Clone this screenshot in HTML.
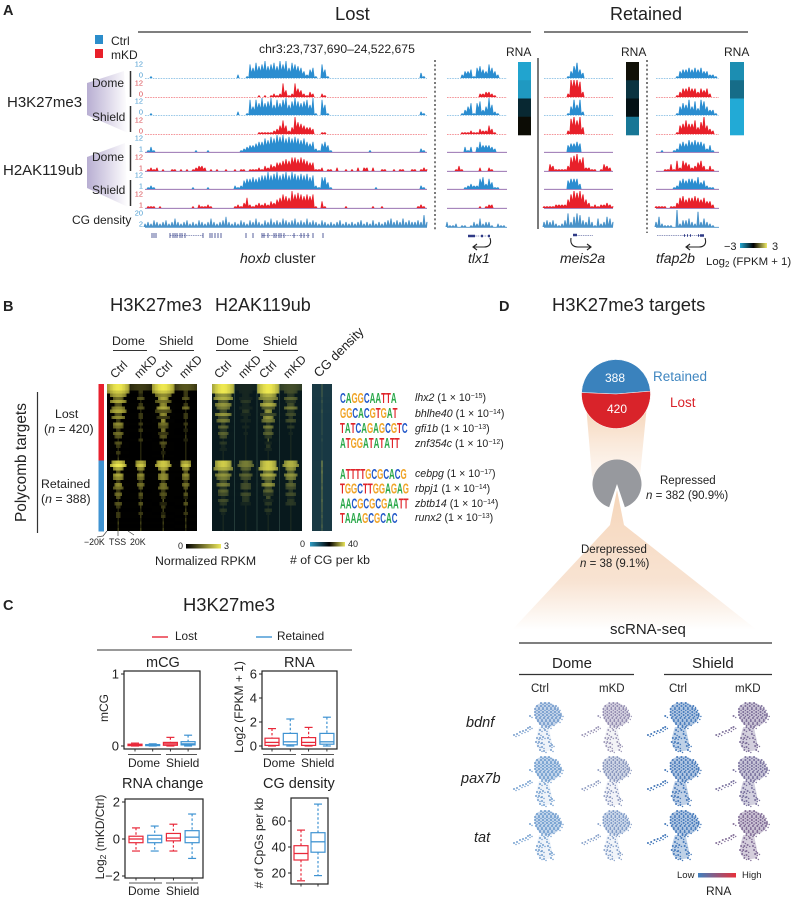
<!DOCTYPE html>
<html lang="en">
<head>
<meta charset="utf-8">
<title>H3K27me3 and H2AK119ub retention figure</title>
<style>
html,body{margin:0;padding:0;background:#fff;}
svg{display:block;}
text{font-family:"Liberation Sans",Arial,sans-serif;fill:#222;}
</style>
</head>
<body>
<svg id="fig" xmlns="http://www.w3.org/2000/svg" width="800" height="899" viewBox="0 0 800 899">
<defs>
<linearGradient id="purpleFade" x1="0" x2="1" y1="0" y2="0"><stop offset="0" stop-color="#b8aed2"/><stop offset="1" stop-color="#b8aed2" stop-opacity="0"/></linearGradient>
<linearGradient id="peachFadeA" x1="0" x2="0" y1="0" y2="1"><stop offset="0" stop-color="#f5d3b5"/><stop offset="1" stop-color="#f9e6d6" stop-opacity="0.35"/></linearGradient>
<linearGradient id="peachFadeB" x1="0" x2="0" y1="0" y2="1"><stop offset="0" stop-color="#f6d6ba"/><stop offset="0.65" stop-color="#f8e3d2"/><stop offset="1" stop-color="#ffffff"/></linearGradient>
<linearGradient id="rnaScale"><stop offset="0" stop-color="#24a9d4"/><stop offset="0.5" stop-color="#000"/><stop offset="1" stop-color="#f0ec6a"/></linearGradient>
<linearGradient id="rpkmScale"><stop offset="0" stop-color="#000"/><stop offset="1" stop-color="#eee95c"/></linearGradient>
<linearGradient id="cgScale"><stop offset="0" stop-color="#2f9cc4"/><stop offset="0.55" stop-color="#000"/><stop offset="1" stop-color="#e8e35a"/></linearGradient>
<linearGradient id="umapScale"><stop offset="0" stop-color="#3f7fbf"/><stop offset="1" stop-color="#e8303a"/></linearGradient>
</defs>

<!-- PANEL A -->
<g>
<text x="3" y="15" font-size="14.5" font-weight="bold">A</text>
<text x="335" y="20" font-size="18.4">Lost</text>
<line x1="138" x2="531" y1="32" y2="32" stroke="#333" stroke-width="1.3"/>
<text x="610" y="20" font-size="18">Retained</text>
<line x1="544" x2="748" y1="32" y2="32" stroke="#333" stroke-width="1.3"/>
<rect x="95" y="35" width="8" height="9" fill="#2b8dcb"/>
<text x="111" y="45" font-size="12">Ctrl</text>
<rect x="95" y="49" width="8" height="9" fill="#e8202a"/>
<text x="111" y="59" font-size="12">mKD</text>
<text x="259" y="53" font-size="12.2">chr3:23,737,690–24,522,675</text>

<polygon points="87,83 124,71 128,133 87,115" fill="url(#purpleFade)"/>
<polygon points="87,157 125,143 128,207 87,188" fill="url(#purpleFade)"/>
<text x="7" y="107" font-size="15">H3K27me3</text>
<text x="3" y="175" font-size="15">H2AK119ub</text>
<text x="92" y="87" font-size="12">Dome</text>
<text x="92" y="121" font-size="12">Shield</text>
<text x="92" y="161" font-size="12">Dome</text>
<text x="92" y="194" font-size="12">Shield</text>
<text x="72" y="224" font-size="12">CG density</text>
<g stroke="#333" stroke-width="1.5">
<line x1="130.5" x2="130.5" y1="71" y2="97"/><line x1="130.5" x2="130.5" y1="106" y2="132"/>
<line x1="130.5" x2="130.5" y1="145" y2="171"/><line x1="130.5" x2="130.5" y1="180" y2="206"/>
</g>
<g id="tracks"></g>
<line x1="435" x2="435" y1="60" y2="231" stroke="#222" stroke-width="1.2" stroke-dasharray="2 2.4"/>
<line x1="538" x2="538" y1="58" y2="229" stroke="#222" stroke-width="1.2"/>
<line x1="647" x2="647" y1="60" y2="233" stroke="#222" stroke-width="1.2" stroke-dasharray="2 2.4"/>

<g id="rnaStrips"></g>
<text x="506" y="56" font-size="12">RNA</text>
<text x="621" y="56" font-size="12">RNA</text>
<text x="724" y="56" font-size="12">RNA</text>

<g fill="none" stroke="#2f3a86">
<path stroke-width="0.6" d="M170 235.5H203M262 235.5H310M473 236H490M576 235.5H593M657 235.5H704" stroke-dasharray="1.5 0.8"/>
<path stroke-width="0.8" d="M152 233v5M154 233v5M156 233v5M170 233v5M173 233v5M175 233v5M177 233v5M180 233v5M182 233v5M185 233v5M203 233v5M210 233v5M212 233v5M215 233v5M218 233v5M221 233v5M246 233v5M253 233v5M262 233v5M264 233v5M268 233v5M274 233v5M276 233v5M279 233v5M281 233v5M284 233v5M294 233v5M301 233v5M304 233v5M308 233v5M313 233v5M323 233v5"/>
<path stroke-width="2.4" d="M468 236H475M481 236H483M488 236H490M573 235H577M684 235.5H685M687 235.5H688M690 235.5H691M698 235.5H699M700 235.5H704"/>
</g>
<g fill="none" stroke="#222" stroke-width="1.1">
<path d="M490 238C492 244 489 247 484 247H474M477 244L473 247L477 250"/>
<path d="M571 238C570 244 573 247 578 247H590M587 244L591 247L587 250"/>
<path d="M705 238C707 244 704 247 699 247H687M690 244L686 247L690 250"/>
</g>
<text x="240" y="263" font-size="14"><tspan font-style="italic">hoxb</tspan> cluster</text>
<text x="468" y="263" font-size="14" font-style="italic">tlx1</text>
<text x="560" y="263" font-size="14" font-style="italic">meis2a</text>
<text x="656" y="263" font-size="14" font-style="italic">tfap2b</text>
<text x="724" y="250" font-size="11">−3</text>
<rect x="740" y="243" width="27" height="5" fill="url(#rnaScale)"/>
<text x="772" y="250" font-size="11">3</text>
<text x="706" y="265" font-size="11.4">Log<tspan font-size="8" dy="2">2</tspan><tspan dy="-2"> (FPKM + 1)</tspan></text>
</g>

<!-- PANEL B -->
<g>
<text x="3" y="311" font-size="14.5" font-weight="bold">B</text>
<text x="110" y="311" font-size="18.4">H3K27me3</text>
<text x="215" y="311" font-size="18">H2AK119ub</text>
<text x="112" y="345" font-size="12.3">Dome</text>
<text x="159" y="345" font-size="12.3">Shield</text>
<text x="216" y="345" font-size="12.3">Dome</text>
<text x="263" y="345" font-size="12.3">Shield</text>
<g stroke="#333" stroke-width="1">
<line x1="113" x2="147" y1="350.5" y2="350.5"/><line x1="159" x2="194" y1="350.5" y2="350.5"/>
<line x1="216" x2="251" y1="350.5" y2="350.5"/><line x1="263" x2="298" y1="350.5" y2="350.5"/>
</g>
<g font-size="12">
<text transform="translate(115,379) rotate(-45)">Ctrl</text>
<text transform="translate(139,379) rotate(-45)">mKD</text>
<text transform="translate(160,379) rotate(-45)">Ctrl</text>
<text transform="translate(184,379) rotate(-45)">mKD</text>
<text transform="translate(219,379) rotate(-45)">Ctrl</text>
<text transform="translate(243,379) rotate(-45)">mKD</text>
<text transform="translate(264,379) rotate(-45)">Ctrl</text>
<text transform="translate(288,379) rotate(-45)">mKD</text>
</g>
<text transform="translate(319,378) rotate(-45)" font-size="13">CG density</text>
<line x1="37.5" x2="37.5" y1="392" y2="533" stroke="#333" stroke-width="1.2"/>
<text transform="translate(26,522) rotate(-90)" font-size="15.4">Polycomb targets</text>
<text x="55" y="418" font-size="12.3">Lost</text>
<text x="44" y="433" font-size="12.3">(<tspan font-style="italic">n</tspan> = 420)</text>
<text x="41" y="488" font-size="12.3">Retained</text>
<text x="41" y="503" font-size="12.3">(<tspan font-style="italic">n</tspan> = 388)</text>
<rect x="98.5" y="384" width="5.5" height="76.5" fill="#e8202e"/>
<rect x="98.5" y="460.5" width="5.5" height="71" fill="#3f93d2"/>
<g id="heatmaps" shape-rendering="crispEdges"></g>
<g stroke="#4a6a60" stroke-width="0.6" opacity="0.7">
<line x1="234.5" x2="234.5" y1="384" y2="531"/><line x1="257" x2="257" y1="384" y2="531"/><line x1="279.5" x2="279.5" y1="384" y2="531"/>
</g>
<g stroke="#444" stroke-width="0.7" fill="none">
<path d="M107 531L103 536L97 537M118 531V536M128 531L134 535"/>
</g>
<g font-size="8.8" fill="#333">
<text x="84" y="545">−20K</text>
<text x="109" y="545">TSS</text>
<text x="130" y="545">20K</text>
</g>
<text x="178" y="549" font-size="9">0</text>
<rect x="186" y="544" width="35" height="4.5" fill="url(#rpkmScale)"/>
<text x="224" y="549" font-size="9">3</text>
<text x="155" y="565" font-size="12.3">Normalized RPKM</text>
<text x="300" y="547" font-size="9">0</text>
<rect x="310" y="542" width="35" height="4.5" fill="url(#cgScale)"/>
<text x="348" y="547" font-size="9">40</text>
<text x="290" y="564" font-size="12.3"># of CG per kb</text>
<g id="motifs"></g>
<g font-size="10.6">
<text x="415" y="401"><tspan font-style="italic">lhx2</tspan> (1 × 10<tspan font-size="7" dy="-3">−15</tspan><tspan dy="3">)</tspan></text>
<text x="415" y="417"><tspan font-style="italic">bhlhe40</tspan> (1 × 10<tspan font-size="7" dy="-3">−14</tspan><tspan dy="3">)</tspan></text>
<text x="415" y="432"><tspan font-style="italic">gfi1b</tspan> (1 × 10<tspan font-size="7" dy="-3">−13</tspan><tspan dy="3">)</tspan></text>
<text x="415" y="447"><tspan font-style="italic">znf354c</tspan> (1 × 10<tspan font-size="7" dy="-3">−12</tspan><tspan dy="3">)</tspan></text>
<text x="415" y="477"><tspan font-style="italic">cebpg</tspan> (1 × 10<tspan font-size="7" dy="-3">−17</tspan><tspan dy="3">)</tspan></text>
<text x="415" y="492"><tspan font-style="italic">rbpj1</tspan> (1 × 10<tspan font-size="7" dy="-3">−14</tspan><tspan dy="3">)</tspan></text>
<text x="415" y="507"><tspan font-style="italic">zbtb14</tspan> (1 × 10<tspan font-size="7" dy="-3">−14</tspan><tspan dy="3">)</tspan></text>
<text x="415" y="521"><tspan font-style="italic">runx2</tspan> (1 × 10<tspan font-size="7" dy="-3">−13</tspan><tspan dy="3">)</tspan></text>
</g>
</g>

<!-- PANEL C -->
<g>
<text x="3" y="610" font-size="14.5" font-weight="bold">C</text>
<text x="183" y="611" font-size="18.4">H3K27me3</text>
<line x1="152" x2="168" y1="637" y2="637" stroke="#e8293a" stroke-width="1.4"/>
<text x="175" y="640" font-size="11.8">Lost</text>
<line x1="256" x2="272" y1="637" y2="637" stroke="#3f93d2" stroke-width="1.4"/>
<text x="277" y="640" font-size="11.8">Retained</text>
<line x1="97" x2="352" y1="650" y2="650" stroke="#333" stroke-width="1.1"/>

<text x="146" y="667" font-size="14.5">mCG</text>
<text x="284" y="667" font-size="14.5">RNA</text>
<text x="122" y="788" font-size="14.5">RNA change</text>
<text x="263" y="788" font-size="14.5">CG density</text>
<text transform="translate(108,708) rotate(-90)" text-anchor="middle" font-size="12">mCG</text>
<text transform="translate(243,707) rotate(-90)" text-anchor="middle" font-size="12">Log2 (FPKM + 1)</text>
<text transform="translate(104,837) rotate(-90)" text-anchor="middle" font-size="12">Log<tspan font-size="8.5" dy="2">2</tspan><tspan dy="-2"> (mKD/Ctrl)</tspan></text>
<text transform="translate(263,843) rotate(-90)" text-anchor="middle" font-size="12"># of CpGs per kb</text>
<g id="boxcharts"></g>
<g stroke="#555" stroke-width="0.9">
<line x1="128" x2="161" y1="754.5" y2="754.5"/><line x1="166" x2="197" y1="754.5" y2="754.5"/>
<line x1="263" x2="296" y1="754.5" y2="754.5"/><line x1="301" x2="334" y1="754.5" y2="754.5"/>
<line x1="129" x2="162" y1="883" y2="883"/><line x1="166" x2="198" y1="883" y2="883"/>
</g>
<g font-size="12">
<text x="128" y="767">Dome</text>
<text x="166" y="767">Shield</text>
<text x="263" y="767">Dome</text>
<text x="301" y="767">Shield</text>
<text x="128" y="895">Dome</text>
<text x="166" y="895">Shield</text>
</g>
</g>

<!-- PANEL D -->
<g>
<text x="499" y="311" font-size="14.5" font-weight="bold">D</text>
<text x="552" y="311" font-size="18.4">H3K27me3 targets</text>
<polygon points="586,405 647,405 640,476 592,476" fill="url(#peachFadeA)"/>
<polygon points="617,490 624,525 757,630 512,630 610,525" fill="url(#peachFadeB)"/>
<g id="pies"></g>
<text x="605" y="382" font-size="12" style="fill:#fff">388</text>
<text x="607" y="413" font-size="12" style="fill:#fff">420</text>
<text x="653" y="381" font-size="13.5" style="fill:#3f86c0">Retained</text>
<text x="670" y="407" font-size="13.5" style="fill:#d9232a">Lost</text>
<text x="660" y="484" font-size="11.5">Repressed</text>
<text x="646" y="499" font-size="11.5"><tspan font-style="italic">n</tspan> = 382 (90.9%)</text>
<text x="581" y="553" font-size="11.5">Derepressed</text>
<text x="580" y="567" font-size="11.5"><tspan font-style="italic">n</tspan> = 38 (9.1%)</text>
<text x="610" y="634" font-size="15">scRNA-seq</text>
<line x1="519" x2="772" y1="643" y2="643" stroke="#333" stroke-width="1.2"/>
<text x="552" y="668" font-size="15">Dome</text>
<text x="692" y="668" font-size="15">Shield</text>
<line x1="519" x2="634" y1="674.5" y2="674.5" stroke="#333" stroke-width="1.2"/>
<line x1="664" x2="772" y1="674.5" y2="674.5" stroke="#333" stroke-width="1.2"/>
<g font-size="11.5">
<text x="531" y="692">Ctrl</text>
<text x="599" y="692">mKD</text>
<text x="669" y="692">Ctrl</text>
<text x="735" y="692">mKD</text>
</g>
<g font-size="14.5" font-style="italic">
<text x="466" y="727">bdnf</text>
<text x="461" y="783">pax7b</text>
<text x="474" y="842">tat</text>
</g>
<g id="umaps"></g>
<text x="677" y="878" font-size="9.5">Low</text>
<rect x="698" y="873" width="38" height="4.5" fill="url(#umapScale)"/>
<text x="742" y="878" font-size="9.5">High</text>
<text x="706" y="895" font-size="12">RNA</text>
</g>
</svg>

<script>
/* ---------- Browser track values (0–10 signal, read by eye per bin) ---------- */
const hoxbK27DomeCtrl=[0,0,1,0,0,0,0,0,0,0,0,0,0,0,0,0,0,0,0,0,0,0,0,0,0,0,0,0,0,0,0,2,0,0,1,8,6,9,7,8,10,7,8,9,7,10,8,10,6,9,8,7,6,4,2,5,6,1,0,8,5,1,0,0,0,0,0,0,0,0,0,0,0,0,0,0,0,0,0,0,0,0,0,0,0,0,0,0,0,0,0,0,3,1,0];
const hoxbK27DomeKD=[0,0,0,0,0,0,0,0,0,0,0,0,0,0,0,0,0,0,0,0,0,0,0,0,0,0,0,0,0,0,0,0,0,0,0,0,0,0,1,0,1,0,1,2,1,2,8,4,1,2,8,5,4,2,1,3,2,0,0,2,1,0,0,0,0,0,0,0,0,0,0,0,0,0,0,0,0,0,0,0,0,0,0,0,0,0,0,0,0,0,0,0,0,0,0];
const hoxbK27ShieldCtrl=[0,0,1,0,0,0,0,0,0,0,0,0,0,0,0,0,0,0,0,0,0,0,0,0,0,0,0,0,0,0,0,2,0,0,1,9,5,9,7,10,7,8,10,6,9,7,9,10,6,8,10,8,7,8,9,6,10,1,0,9,6,1,0,0,0,0,0,0,0,0,0,0,0,0,0,0,0,0,0,0,0,0,0,0,0,0,0,0,0,0,0,0,2,1,0];
const hoxbK27ShieldKD=[0,0,0,0,0,0,0,0,0,0,0,0,0,0,0,0,0,0,0,0,0,0,0,0,0,0,0,0,0,0,0,0,0,0,0,0,0,0,1,1,1,1,1,2,3,5,8,5,2,4,10,7,6,5,4,4,3,0,0,1,1,0,0,0,0,0,0,0,0,0,0,0,0,0,0,0,0,0,0,0,0,0,0,0,0,0,0,0,0,0,0,0,0,0,0];
const hoxbK119DomeCtrl=[0,1,3,1,0,0,0,0,0,0,0,0,0,0,0,0,0,1,0,0,0,1,0,0,0,0,0,0,0,0,0,0,1,2,3,4,4,5,6,6,8,7,9,8,10,9,10,8,9,8,9,8,7,8,6,5,6,2,1,5,6,4,1,0,0,0,0,0,0,0,0,0,0,0,0,1,0,0,0,0,0,0,0,0,0,0,0,0,0,0,0,0,2,1,0];
const hoxbK119DomeKD=[0,1,2,1,2,0,1,0,0,1,1,0,1,0,1,0,1,2,3,3,2,0,1,0,1,0,0,1,0,0,1,0,1,1,0,1,1,1,2,1,3,2,4,3,5,5,6,7,6,8,8,7,8,7,6,5,5,1,1,2,0,1,1,0,2,0,0,1,0,1,0,2,0,2,2,0,2,0,0,1,1,0,0,1,0,1,1,0,0,1,1,0,1,2,1];
const hoxbK119ShieldCtrl=[0,1,2,1,0,0,0,0,0,0,0,0,0,0,0,0,1,0,0,0,0,1,0,0,0,0,0,0,0,0,2,1,2,5,6,6,7,6,7,8,8,10,8,9,10,8,9,10,8,10,9,8,9,8,9,7,8,2,1,7,7,4,1,0,0,0,0,0,0,0,0,0,0,0,0,0,0,1,0,0,0,0,0,0,0,0,0,0,0,0,0,0,2,1,0];
const hoxbK119ShieldKD=[0,1,1,1,0,1,0,0,0,0,0,0,0,0,0,0,1,0,2,1,1,2,1,0,0,0,0,0,0,0,1,2,1,3,6,2,1,2,3,2,3,2,4,3,5,6,8,7,6,10,8,9,8,7,8,7,8,1,0,4,1,0,0,0,0,0,0,1,0,0,0,0,0,0,0,0,1,0,0,1,0,0,0,0,0,0,0,0,0,0,0,1,2,1,0];
const hoxbCG=[2,3,2,4,3,2,3,4,2,3,5,3,2,3,4,2,3,2,4,3,2,3,5,3,2,3,4,6,3,2,3,2,4,3,2,4,3,5,3,2,4,3,5,3,4,3,5,4,3,4,5,3,4,3,5,3,4,3,2,4,3,2,3,2,3,4,2,3,2,3,2,3,4,2,3,2,4,2,3,2,3,4,5,3,4,3,5,3,4,3,3,4,3,7,3];
const hoxbTracks=[hoxbK27DomeCtrl,hoxbK27DomeKD,hoxbK27ShieldCtrl,hoxbK27ShieldKD,hoxbK119DomeCtrl,hoxbK119DomeKD,hoxbK119ShieldCtrl,hoxbK119ShieldKD,hoxbCG];

const tlx1Tracks=[
[0,0,0,0,0,2,4,4,5,1,6,7,5,4,8,6,4,2,0,0,0],
[0,0,0,0,0,0,0,0,0,0,0,2,2,3,3,2,1,0,0,0,0],
[0,0,0,0,0,1,3,5,7,1,7,8,3,5,10,6,2,1,0,0,0],
[0,0,0,0,0,1,1,1,2,1,1,3,2,2,5,3,1,0,0,0,0],
[0,0,0,0,0,0,3,1,3,0,3,6,4,4,4,3,2,0,0,0,0],
[0,0,0,1,3,1,0,0,0,0,0,2,0,0,2,1,0,0,0,0,0],
[0,0,0,0,0,0,1,2,3,2,2,6,7,3,6,4,1,1,0,0,0],
[0,0,0,0,0,0,0,0,0,0,0,1,0,1,2,2,0,0,0,0,0],
[3,1,1,2,0,1,1,0,1,3,2,5,2,3,3,1,0,2,1,1,0]];
const meis2aTracks=[
[0,0,0,0,0,0,0,0,1,4,7,9,5,3,0,0,0,0,0,0,0,0,0,0],
[0,0,0,0,0,0,0,0,2,10,10,10,9,3,0,0,0,0,0,0,0,0,0,0],
[0,0,0,0,0,0,0,0,1,5,9,6,9,2,0,0,0,0,0,0,0,0,0,0],
[0,0,0,0,0,0,0,0,2,9,10,8,10,4,0,0,0,0,0,0,0,0,0,0],
[0,0,0,0,0,0,0,0,4,5,5,6,5,0,0,0,0,0,0,0,0,0,0,0],
[0,0,4,3,1,1,1,1,3,8,9,10,7,8,2,2,1,1,0,1,4,3,2,0],
[0,0,0,0,0,0,0,0,5,6,6,6,3,0,0,0,0,0,0,0,0,0,0,0],
[1,1,1,1,2,2,2,2,5,8,10,9,10,8,5,3,1,2,1,2,2,3,2,1],
[3,4,3,4,2,1,2,4,8,3,6,8,7,4,3,6,3,1,5,2,3,6,5,3]];
const tfap2bTracks=[
[0,0,0,0,0,0,0,1,4,5,5,6,5,6,5,6,4,4,2,2,1,0],
[0,0,0,0,0,0,0,1,3,5,5,6,5,5,3,5,4,5,2,0,0,0],
[0,0,0,0,0,0,0,1,5,7,6,9,5,8,4,9,8,5,3,3,1,0],
[0,0,0,0,0,0,0,1,5,6,8,6,6,8,4,7,10,5,3,2,0,0],
[0,0,1,0,0,0,1,2,5,6,5,7,6,7,6,6,5,2,4,1,0,0],
[0,0,0,1,1,4,1,6,2,6,5,4,2,3,5,6,3,1,3,1,0,0],
[0,0,0,0,0,0,1,2,5,6,5,6,6,5,7,4,5,2,1,1,0,0],
[1,1,1,1,0,1,1,3,6,7,5,6,6,7,6,5,6,4,4,2,0,0],
[3,6,2,1,1,1,0,10,2,4,4,5,3,2,9,3,5,3,2,1,0,0]];
const trackTopLabels=[12,12,12,12,12,12,12,12,20];
const trackBottomLabels=[0,0,0,0,1,1,1,1,2];

/* RNA heat strip values (log2 FPKM, -3..3) */
const rnaTlx1=[-2.9,-2.7,-0.7,0.15];
const rnaMeis2a=[0.2,-0.9,-0.3,-2.1];
const rnaTfap2b=[-2.5,-1.9,-3,-3];

/* ---------- Heatmap row values (signal 0–9, half-width in bins) ---------- */
const k27DomeCtrlSig=[9,9,8,7,5,7,4,6,7,4,6,3,6,5,3,5,4,2,4,3,2,3,2,3,8,9,7,4,7,6,3,6,5,3,5,4,2,4,3,2,3,3,2,3,2,3];
const k27DomeKdSig=[3,3,3,2,4,2,3,4,2,3,3,2,3,2,3,2,2,3,2,2,2,2,2,2,7,8,6,3,6,5,3,5,4,2,4,3,2,4,3,2,3,3,2,3,2,3];
const k27ShieldCtrlSig=[9,9,8,6,7,5,6,7,4,6,3,6,5,4,5,3,4,2,4,3,3,2,3,2,8,8,7,5,6,6,3,5,5,3,4,3,4,2,3,3,2,3,2,3,2,3];
const k27ShieldKdSig=[4,4,3,3,4,2,3,5,2,3,3,2,3,3,2,2,3,2,2,2,2,2,2,2,7,8,6,4,6,5,3,5,4,3,4,2,3,4,2,3,3,2,3,2,3,2];
const k27CtrlWid=[7,7,7,5,3,5,2,4,5,2,4,1,3,3,1,3,2,0,2,1,0,1,0,0,4,5,3,1,3,3,1,2,3,1,2,1,0,2,1,0,1,1,0,0,0,0];
const k27KdWid=[7,7,1,1,2,0,1,2,0,1,1,0,1,0,1,0,0,1,0,0,0,0,0,0,3,3,2,1,2,2,1,2,1,0,1,1,0,1,0,0,1,0,0,0,0,0];
const k119DomeCtrlSig=[9,9,9,6,7,4,6,5,3,6,3,5,2,4,2,4,3,1,2,1,1,1,1,1,8,8,7,4,6,5,3,5,2,4,3,1,3,2,1,2,1,1,1,1,1,1];
const k119DomeKdSig=[1,1,1,1,1,2,1,1,2,1,1,1,1,1,1,1,1,1,1,1,1,1,1,1,5,5,4,2,4,3,2,3,3,1,3,2,2,1,1,1,1,1,1,1,1,1];
const k119ShieldCtrlSig=[9,9,9,7,6,5,7,4,6,3,6,5,2,5,3,4,2,4,1,2,1,1,1,1,8,8,8,5,7,5,4,6,3,4,2,3,1,2,1,2,1,1,1,1,1,1];
const k119ShieldKdSig=[3,3,3,2,4,2,3,5,2,3,2,3,1,2,1,1,1,1,1,1,1,1,1,1,7,7,6,4,6,5,3,4,3,2,3,1,2,2,1,1,1,1,1,1,1,1];
const k119CtrlWid=[7,7,7,5,6,3,5,4,2,5,3,4,1,3,2,3,2,0,2,1,2,0,0,0,5,5,6,3,5,4,2,4,2,3,3,1,3,2,0,2,1,0,0,0,0,0];
const k119KdWid=[7,7,4,2,4,3,2,4,2,3,1,3,0,2,0,1,0,0,0,0,0,0,0,0,4,5,3,2,4,3,1,3,3,1,3,2,2,3,0,0,0,0,0,0,0,0];
const cgSig=[3,3,3,3,2,3,2,2,3,2,2,2,2,2,2,2,1,2,1,1,1,1,1,1,6,6,5,6,5,5,5,4,5,4,4,4,5,4,4,4,3,4,3,3,4,3];
const cgWid=[0,0,0,0,0,0,0,0,0,0,0,0,0,0,0,0,0,0,0,0,0,0,0,0,0,0,0,0,0,0,0,0,0,0,0,0,0,0,0,0,0,0,0,0,0,0];

/* ---------- Motifs ---------- */
const motifSeqs=["CAGGCAATTA","GGCACGTGAT","TATCAGAGCGTC","ATGGATATATT","ATTTTGCGCACG","TGGCTTGGAGAG","AACGCGCGAATT","TAAAGCGCAC"];
const motifRowsUpper=4;

/* ---------- Box plot values: [min, q1, median, q3, max] ---------- */
const boxCategories=["Dome Lost","Dome Retained","Shield Lost","Shield Retained"];
const mcgStats=[[0,0.005,0.015,0.025,0.04],[0,0.005,0.01,0.02,0.03],[0,0.01,0.03,0.05,0.12],[0,0.015,0.03,0.06,0.15]];
const rnaStats=[[0,0.05,0.3,0.65,1.45],[0,0.1,0.35,1.05,2.25],[0,0.05,0.3,0.7,1.55],[0,0.15,0.35,1.05,2.4]];
const changeStats=[[-0.65,-0.2,0,0.15,0.6],[-0.65,-0.2,0,0.2,0.7],[-0.65,-0.1,0.05,0.3,0.8],[-1.05,-0.2,0.1,0.45,1.35]];
const cgCategories=["Lost","Retained"];
const cgStats=[[14,30,35,41,53],[18,36,44,51,73]];
const mcgTicks=[0,1];
const rnaTicks=[0,2,4,6];
const changeTicks=[-2,0,2];
const cgTicks=[20,40,60];

/* ---------- Pie values ---------- */
const targetCounts=[388,420];
const repressedCounts=[382,38];

/* ---------- UMAP expression level per gene/column (0 low – 1 high) ---------- */
const umapGenes=["bdnf","pax7b","tat"];
const umapBdnf=[0.1,0.55,0.1,0.6];
const umapPax7b=[0.05,0.35,0.12,0.55];
const umapTat=[0.05,0.2,0.1,0.65];
const umapDensity=[0.75,0.65,1,0.85];
const umapCells=[[-6,-12],[-2,-12],[2,-12],[-10,-9],[-6,-9],[-2,-9],[2,-9],[6,-9],[9,-9],[-12,-6],[-8,-6],[-4,-6],[0,-6],[4,-6],[8,-6],[11,-6],[-12,-3],[-8,-3],[-4,-3],[0,-3],[4,-3],[8,-3],[12,-3],[-12,0],[-8,0],[-4,0],[0,0],[4,0],[8,0],[12,0],[14,0],[-11,3],[-7,3],[-3,3],[1,3],[5,3],[9,3],[13,3],[-9,6],[-5,6],[-1,6],[3,6],[7,6],[11,6],[-7,9],[-3,9],[1,9],[5,9],[-5,12],[-1,12],[2,12],[-7,15],[-2,15],[-8,19],[0,19],[-10,23],[-7,23],[-4,22],[1,23],[-11,27],[-8,27],[-5,28],[2,27],[-9,31],[-5,32],[3,31],[-7,35],[4,35],[-3,36],[5,30],[-33,20],[-30,19],[-27,17],[-24,16],[-21,15],[-19,13],[-17,12],[-17,1]];

/* ---------- Helpers ---------- */
const NS="http://www.w3.org/2000/svg";
function mk(tag,attrs,parent){
  const el=document.createElementNS(NS,tag);
  for(const k in attrs){el.setAttribute(k,attrs[k]);}
  parent.appendChild(el);
  return el;
}
function linear(d0,d1,r0,r1){return v=>r0+(v-d0)/(d1-d0)*(r1-r0);}
function mix(a,b,t){t=Math.max(0,Math.min(1,t));return "rgb("+a.map((c,i)=>Math.round(c+(b[i]-c)*t)).join(",")+")";}

/* ---------- Tracks ---------- */
const trackBase=i=>[78,97,115,134,152,171,189,208,227][i];
const trackColor=i=>i===8?"#4a93c9":(i%2===0?"#2b8dd0":"#e8202a");
const trackHeight=linear(0,10,0,17);
const tracksLayer=document.getElementById("tracks");
function drawLocus(tracks,x0,binW,locus){
  const xs=linear(0,1,x0,x0+binW);
  tracks.forEach((vals,i)=>{
    const base=trackBase(i);
    const line=mk("line",{x1:x0,x2:xs(vals.length-1),y1:base+0.3,y2:base+0.3,stroke:i>=4&&i<8?"#8a5fa5":trackColor(i),"stroke-width":i>=4?0.9:0.7,"stroke-dasharray":i<4?"1.6 1":"none",opacity:i<4?0.75:1},tracksLayer);
    
    
    const valley=i===8?0.3:0.62;
    let d="M"+xs(0)+" "+base;
    vals.forEach((v,j)=>{
      const prev=j>0?vals[j-1]:0;
      d+="L"+xs(j-0.5).toFixed(1)+" "+(base-trackHeight(Math.min(v,prev))*valley).toFixed(1);
      d+="L"+xs(j-0.15).toFixed(1)+" "+(base-trackHeight(v)).toFixed(1);
      d+="L"+xs(j+0.15).toFixed(1)+" "+(base-trackHeight(v)).toFixed(1);
    });
    d+="L"+xs(vals.length-1)+" "+base+"Z";
    const area=mk("path",{d:d,fill:trackColor(i)},tracksLayer);
    
    
  });
}
drawLocus(hoxbTracks,145,3,"hoxb");
drawLocus(tlx1Tracks,447,3,"tlx1");
drawLocus(meis2aTracks,544,3,"meis2a");
drawLocus(tfap2bTracks,656,3,"tfap2b");
trackTopLabels.forEach((t,i)=>{
  const base=trackBase(i);
  const col=i%2===0||i===8?"#4a9bd0":"#d84a50";
  const top=mk("text",{x:143,y:base-11.5,"font-size":7.4,"text-anchor":"end",style:"fill:"+col},tracksLayer);
  top.textContent=t;
  
  
  const bot=mk("text",{x:143,y:base-0.5,"font-size":7.4,"text-anchor":"end",style:"fill:"+col},tracksLayer);
  bot.textContent=trackBottomLabels[i];
  
  
});

/* ---------- RNA strips ---------- */
const stripLayer=document.getElementById("rnaStrips");
function rnaColor(v){
  const t=linear(-3,3,0,1)(v);
  return t<0.5?mix([34,170,214],[0,0,0],t*2):mix([0,0,0],[240,236,106],(t-0.5)*2);
}
function drawStrip(vals,x,w,name){
  const ys=linear(0,4,62,135);
  vals.forEach((v,i)=>{
    const r=mk("rect",{x:x,y:ys(i),width:w,height:ys(1)-ys(0)+0.3,fill:rnaColor(v)},stripLayer);
    
    
  });
}
drawStrip(rnaTlx1,518,13,"tlx1");
drawStrip(rnaMeis2a,626,13,"meis2a");
drawStrip(rnaTfap2b,730,14,"tfap2b");

/* ---------- Heatmaps ---------- */
const heatLayer=document.getElementById("heatmaps");
const heatRowY=linear(0,46,384,531);
const BINS=15;
const YELLOW=[238,232,80];
function drawHeat(x0,w,sig,wid,bg,name){
  const binW=w/BINS;
  const mid=(BINS-1)/2;
  sig.forEach((s,r)=>{
    for(let b=0;b<BINS;b++){
      const d=Math.abs(b-mid);
      const q=d/(wid[r]+1);
      const f=d<=wid[r]?1-0.35*q*q:0.03;
      const cell=mk("rect",{x:(x0+b*binW).toFixed(2),y:heatRowY(r).toFixed(2),width:(binW+0.2).toFixed(2),height:(heatRowY(1)-heatRowY(0)+0.2).toFixed(2),fill:mix(bg,YELLOW,Math.pow(s*f/9,1.25))},heatLayer);
      
      
    }
  });
}
const BLACK=[0,0,0],NAVY=[8,25,29],TEAL=[24,56,68];
drawHeat(107,22.5,k27DomeCtrlSig,k27CtrlWid,BLACK,"k27-dome-ctrl");
drawHeat(129.5,22.5,k27DomeKdSig,k27KdWid,BLACK,"k27-dome-mkd");
drawHeat(152,22.5,k27ShieldCtrlSig,k27CtrlWid,BLACK,"k27-shield-ctrl");
drawHeat(174.5,22.5,k27ShieldKdSig,k27KdWid,BLACK,"k27-shield-mkd");
drawHeat(212,22.5,k119DomeCtrlSig,k119CtrlWid,NAVY,"k119-dome-ctrl");
drawHeat(234.5,22.5,k119DomeKdSig,k119KdWid,NAVY,"k119-dome-mkd");
drawHeat(257,22.5,k119ShieldCtrlSig,k119CtrlWid,NAVY,"k119-shield-ctrl");
drawHeat(279.5,22.5,k119ShieldKdSig,k119KdWid,NAVY,"k119-shield-mkd");
drawHeat(312,20,cgSig,cgWid,TEAL,"cg-density");

/* ---------- Motifs ---------- */
const motifLayer=document.getElementById("motifs");
const motifColors={A:"#2ba84a",C:"#2258c8",G:"#f0a428",T:"#e0242a"};
const motifY=i=>i<motifRowsUpper?403+i*15:479+(i-motifRowsUpper)*14.7;
motifSeqs.forEach((seq,i)=>{
  const t=mk("text",{transform:"translate(340,"+motifY(i)+") scale(0.53,1)","font-size":15,"font-weight":"bold"},motifLayer);
  
  
  seq.split("").forEach(ch=>{
    const s=mk("tspan",{style:"fill:"+motifColors[ch]},t);
    s.textContent=ch;
  });
});

/* ---------- Box plots ---------- */
const boxLayer=document.getElementById("boxcharts");
const RED="#e8293a",BLUE="#3f93d2";
function drawChart(opts){
  const y=opts.scale;
  const frame=mk("rect",{x:opts.left,y:opts.top,width:opts.right-opts.left,height:opts.bottom-opts.top,fill:"none",stroke:"#222","stroke-width":1.2},boxLayer);
  
  
  opts.ticks.forEach(t=>{
    const tk=mk("line",{x1:opts.left-3,x2:opts.left,y1:y(t),y2:y(t),stroke:"#222","stroke-width":1},boxLayer);
    
    
    const lab=mk("text",{x:opts.left-5,y:y(t)+4.5,"text-anchor":"end","font-size":13},boxLayer);
    lab.textContent=String(t).replace("-","−");
    
    
  });
  const xs=linear(0,1,opts.firstX,opts.firstX+opts.stepX);
  opts.stats.forEach((s,i)=>{
    const cx=xs(i),col=i%2===0?RED:BLUE,hw=7,cap=4;
    const g=mk("g",{fill:"none",stroke:col,"stroke-width":1.2},boxLayer);
    
    
    mk("line",{x1:cx,x2:cx,y1:y(s[4]),y2:y(s[3]),"stroke-dasharray":"2.4 2"},g);
    mk("line",{x1:cx,x2:cx,y1:y(s[1]),y2:y(s[0]),"stroke-dasharray":"2.4 2"},g);
    mk("line",{x1:cx-cap,x2:cx+cap,y1:y(s[4]),y2:y(s[4])},g);
    mk("line",{x1:cx-cap,x2:cx+cap,y1:y(s[0]),y2:y(s[0])},g);
    mk("rect",{x:cx-hw,y:y(s[3]),width:hw*2,height:Math.max(0.5,y(s[1])-y(s[3]))},g);
    mk("line",{x1:cx-hw,x2:cx+hw,y1:y(s[2]),y2:y(s[2]),"stroke-width":1.3},g);
    const xt=mk("line",{x1:cx,x2:cx,y1:opts.bottom,y2:opts.bottom+2.5,stroke:"#222","stroke-width":0.9},boxLayer);
    
    
  });
}
drawChart({name:"mcg",stats:mcgStats,categories:boxCategories,ticks:mcgTicks,scale:linear(0,1,746,674),left:124,right:200,top:671,bottom:749,firstX:135,stepX:17.7});
drawChart({name:"rna",stats:rnaStats,categories:boxCategories,ticks:rnaTicks,scale:linear(0,6,746,674),left:262,right:337,top:671,bottom:749,firstX:272,stepX:18.3});
drawChart({name:"rna-change",stats:changeStats,categories:boxCategories,ticks:changeTicks,scale:linear(-2,2,876,802),left:125,right:203,top:799,bottom:878,firstX:136,stepX:18.7});
drawChart({name:"cg-density",stats:cgStats,categories:cgCategories,ticks:cgTicks,scale:linear(20,60,873,821),left:291,right:328,top:798,bottom:884,firstX:301,stepX:17});

/* ---------- Pies ---------- */
const pieLayer=document.getElementById("pies");
function arcPath(cx,cy,rad,a0,a1){
  const p0=[cx+rad*Math.cos(a0),cy+rad*Math.sin(a0)],p1=[cx+rad*Math.cos(a1),cy+rad*Math.sin(a1)];
  const large=Math.abs(a1-a0)>Math.PI?1:0;
  return "M"+cx+" "+cy+"L"+p0[0].toFixed(2)+" "+p0[1].toFixed(2)+"A"+rad+" "+rad+" 0 "+large+" 1 "+p1[0].toFixed(2)+" "+p1[1].toFixed(2)+"Z";
}
const targetTotal=targetCounts[0]+targetCounts[1];
const retainedSweep=targetCounts[0]/targetTotal*2*Math.PI;
const topMid=-Math.PI/2-0.02;
const retainedStart=topMid-retainedSweep/2,retainedEnd=topMid+retainedSweep/2;
const pieRetained=mk("path",{d:arcPath(616,394,34.5,retainedStart,retainedEnd),fill:"#3a82bd",stroke:"#fff","stroke-width":0.5},pieLayer);


const pieLost=mk("path",{d:arcPath(616,394,34.5,retainedEnd,retainedStart+2*Math.PI),fill:"#d9232a",stroke:"#fff","stroke-width":0.5},pieLayer);


const repressedTotal=repressedCounts[0]+repressedCounts[1];
const notchHalf=repressedCounts[1]/repressedTotal*Math.PI*1.15;
const pieRepressed=mk("path",{d:arcPath(617,484,24.5,Math.PI/2+notchHalf,Math.PI/2-notchHalf+2*Math.PI),fill:"#97999e"},pieLayer);



/* ---------- UMAPs ---------- */
const umapLayer=document.getElementById("umaps");
const umapLevels=[umapBdnf,umapPax7b,umapTat];
const umapX=linear(0,1,547,615.3);
const umapY=linear(0,1,715,769);
const headOutline="M-12,-8C-8,-14 4,-14 8,-9C11,-6 15,-2 14,3C12,9 6,12 0,12C-8,12 -14,4 -12,-8Z";
const tailOutline="M-8,12L2,12C3,20 6,28 5,34C2,37 -6,37 -10,32C-12,26 -10,18 -8,12Z";
umapGenes.forEach((gene,r)=>{
  umapLevels[r].forEach((lvl,c)=>{
    const colour=mix([62,128,196],[140,70,105],lvl);
    const scale=c>1?1.08:1;
    const g=mk("g",{fill:colour,transform:"translate("+umapX(c).toFixed(1)+","+umapY(r)+") scale("+scale+",1)"},umapLayer);
    
    
    mk("path",{d:headOutline,opacity:0.42*umapDensity[c]},g);
    mk("path",{d:tailOutline,opacity:(c>1?0.35:0.12)*umapDensity[c]},g);
    const dots=mk("g",{opacity:umapDensity[c]},g);
    umapCells.forEach(p=>{
      mk("circle",{cx:p[0],cy:p[1],r:0.95},dots);
      mk("circle",{cx:p[0]+2,cy:p[1]+1.5,r:0.7},dots);
    });
  });
});
</script>
</body>
</html>
